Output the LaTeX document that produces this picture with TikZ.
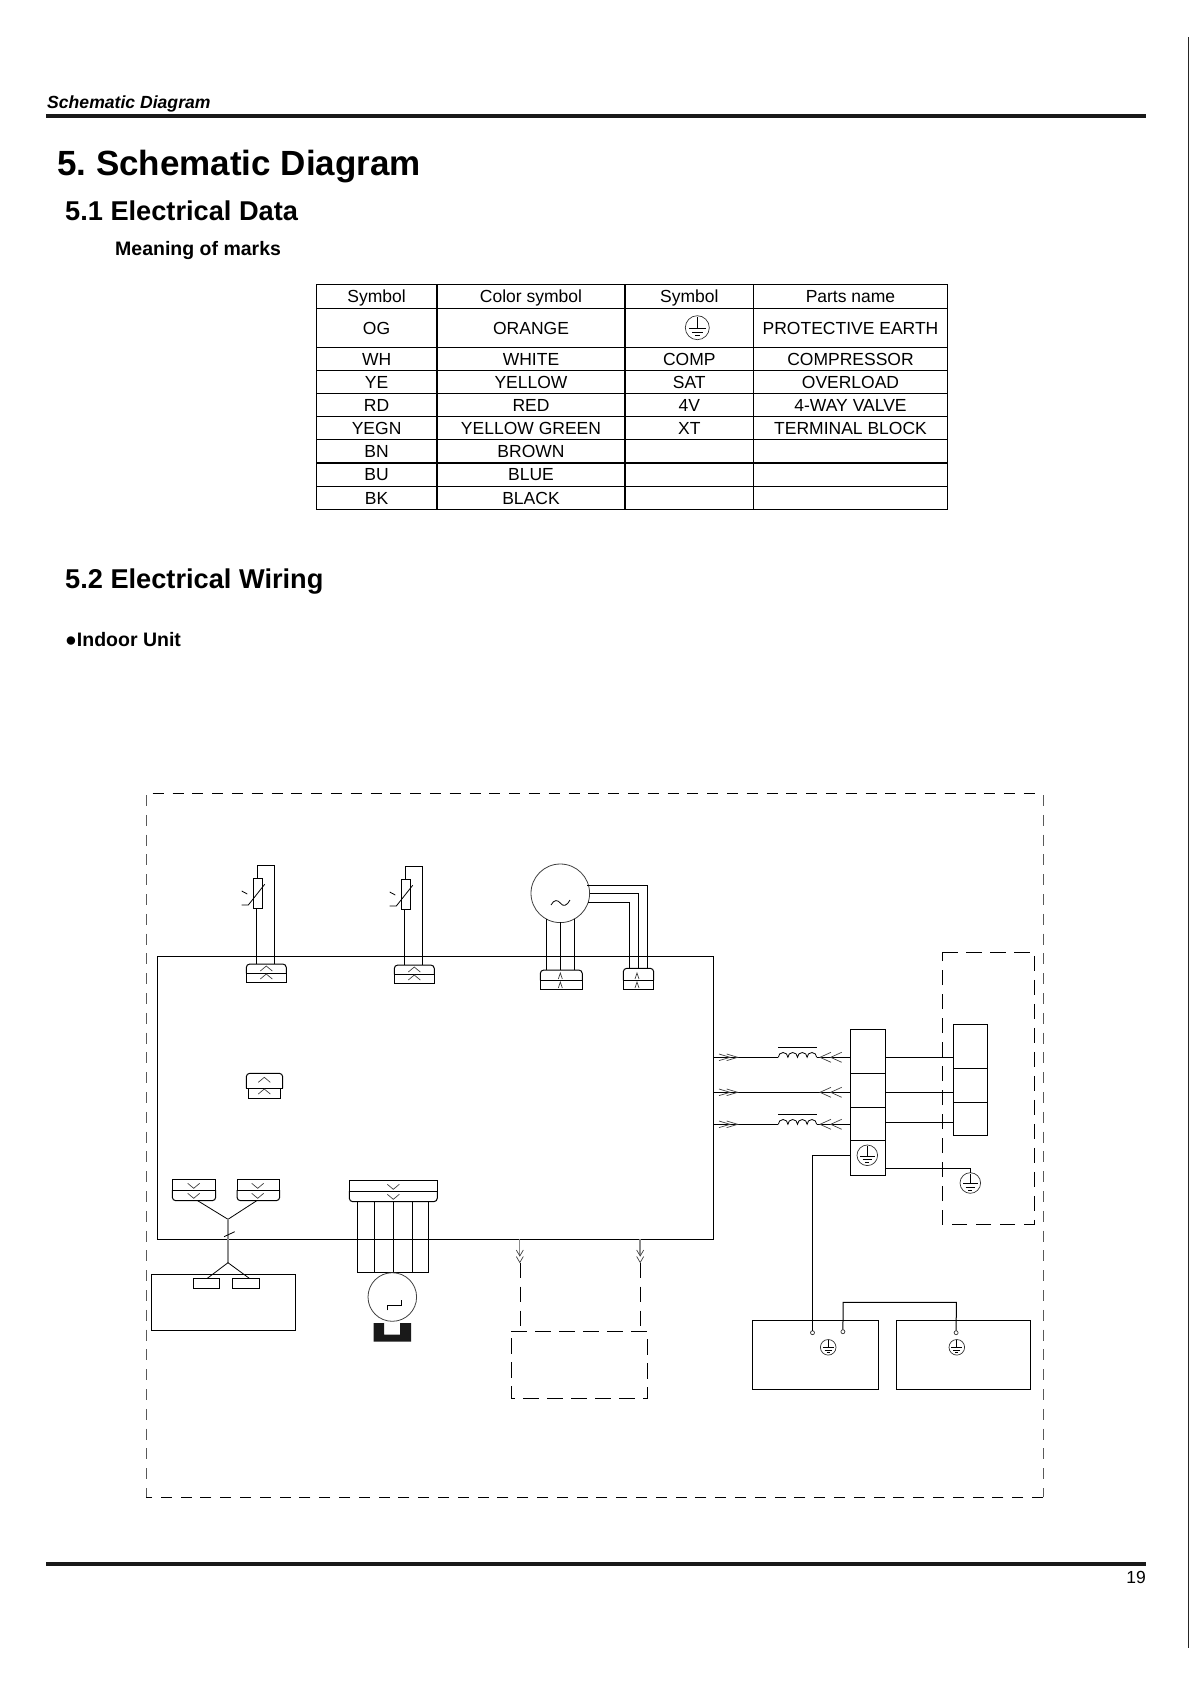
\documentclass[tikz,border=0pt]{standalone}
\usepackage{fontspec}
\setmainfont{Liberation Sans}
\frenchspacing
\tikzset{
  wire/.style={black, line width=1pt},
  thinwire/.style={black, line width=0.8pt},
  greywire/.style={black!45, line width=1.3pt},
  tipline/.style={black!75, line width=0.7pt},
  rulebar/.style={black!90, line width=4pt},
  block/.style={draw, black, line width=1pt, rectangle, inner sep=0pt, outer sep=0pt},
  earthring/.style={draw, black!80, line width=0.7pt, circle, inner sep=0pt, outer sep=0pt},
  pin/.style={draw, black!80, line width=0.7pt, circle, inner sep=0pt, outer sep=0pt, minimum size=4pt},
  dashline/.style={black, line width=0.9pt, dash pattern=on 11pt off 8.8pt},
  dashgrey/.style={black!65, line width=0.9pt, dash pattern=on 11pt off 8.8pt},
  dashlong/.style={black, line width=1pt, dash pattern=on 15.5pt off 8.5pt},
  tabthin/.style={black, line width=0.8pt},
  tabthick/.style={black, line width=1.5pt},
  cell/.style={anchor=base, inner sep=0pt, font=\fontsize{17.5}{20}\selectfont},
  heading/.style={anchor=base west, inner sep=0pt},
}
\newcommand{\blockbox}[5]{\node[block, minimum width={(#4-#2)*1pt}, minimum height={(#5-#3)*1pt}] (#1) at ({(#2+#4)/2},{(#3+#5)/2}) {};}
\newcommand{\earthmark}[4]{\node[earthring, minimum size={2*#4*1pt}] (#1) at (#2,#3) {};
  \begin{scope}[shift={(#2,#3)}, x=#4pt, y=-#4pt]
    \draw[thinwire] (0,-0.9) -- (0,0.07);
    \draw[thinwire] (-0.7,0.07) -- (0.7,0.07);
    \draw[thinwire] (-0.45,0.39) -- (0.45,0.39);
    \draw[thinwire] (-0.21,0.68) -- (0.21,0.68);
  \end{scope}}
\newcommand{\chevron}[5]{\draw[tipline, shift={(#1,#2)}, rotate=#3] (-#4,#5) -- (0,0) -- (#4,#5);}
\newcommand{\plughouse}[5]{\draw[wire, rounded corners=3.5pt] (#1,#4) -- (#1,#3) -- (#2,#3) -- (#2,#4);
  \draw[wire] (#1,#4) -- (#2,#4);
  \draw[wire] (#1,#4) -- (#1,#5) -- (#2,#5) -- (#2,#4);}
\newcommand{\coilmark}[3]{\draw[thinwire] (#1,#2) arc[start angle=180, end angle=0, radius=4.8pt] arc[start angle=180, end angle=0, radius=4.8pt] arc[start angle=180, end angle=0, radius=4.8pt] arc[start angle=180, end angle=0, radius=4.8pt];
  \draw[thinwire] (#1,#3) -- ++(38.4,0);}
\begin{document}
\begin{tikzpicture}[x=1pt, y=-1pt]
  \useasboundingbox (0,0) rectangle (1190,1684);

  % page frame
  \coordinate (headrulea) at (46,116);
  \coordinate (headruleb) at (1146,116);
  \coordinate (footrulea) at (46,1564);
  \coordinate (footruleb) at (1146,1564);
  \draw[rulebar] (headrulea) -- (headruleb);
  \draw[rulebar] (footrulea) -- (footruleb);
  \coordinate (edgea) at (1188.3,37);
  \coordinate (edgeb) at (1188.3,1647.7);
  \draw[black!85, line width=1.3pt] (edgea) -- (edgeb);
  \node[heading, font=\bfseries\itshape\fontsize{17.6}{20}\selectfont] (runhead) at (47,108) {Schematic Diagram};
  \node[heading, font=\bfseries\fontsize{35}{40}\selectfont] (title) at (57,175) {5. Schematic Diagram};
  \node[heading, font=\bfseries\fontsize{27.2}{30}\selectfont] (secdata) at (65,220) {5.1 Electrical Data};
  \node[heading, font=\bfseries\fontsize{19.5}{22}\selectfont] (marks) at (115,255) {Meaning of marks};
  \node[heading, font=\bfseries\fontsize{27.2}{30}\selectfont] (secwiring) at (65,588.5) {5.2 Electrical Wiring};
  \node[heading, font=\bfseries\fontsize{19.5}{22}\selectfont] (indoor) at (65,646) {●Indoor Unit};
  \node[anchor=base east, inner sep=0pt, font=\fontsize{17.5}{20}\selectfont] (pageno) at (1146,1583) {19};

  % table of marks
  \draw[tabthin] (316,284.3) rectangle (947.3,509.3);
  \draw[tabthick] (437.2,284.3) -- (437.2,509.3);
  \draw[tabthick] (625,284.3) -- (625,509.3);
  \draw[tabthin] (753.6,284.3) -- (753.6,509.3);
  \draw[tabthick] (316,308.4) -- (947.3,308.4);
  \draw[tabthick] (316,347.4) -- (947.3,347.4);
  \draw[tabthin] (316,370.6) -- (947.3,370.6);
  \draw[tabthin] (316,393.7) -- (947.3,393.7);
  \draw[tabthin] (316,416.3) -- (947.3,416.3);
  \draw[tabthin] (316,439.3) -- (947.3,439.3);
  \draw[tabthick] (316,463) -- (947.3,463);
  \draw[tabthick] (316,486.4) -- (947.3,486.4);

  \node[cell] (heada) at (376.6,302.6) {Symbol};
  \node[cell] (headb) at (531,302.6) {Color symbol};
  \node[cell] (headc) at (689.3,302.6) {Symbol};
  \node[cell] (headd) at (850.5,302.6) {Parts name};
  \node[cell] (oga) at (376.6,334) {OG};
  \node[cell] (ogb) at (531,334) {ORANGE};
  \earthmark{ogc}{697.3}{327.7}{12}
  \node[cell] (ogd) at (850.5,334) {PROTECTIVE EARTH};
  \node[cell] (wha) at (376.6,365.2) {WH};
  \node[cell] (whb) at (531,365.2) {WHITE};
  \node[cell] (whc) at (689.3,365.2) {COMP};
  \node[cell] (whd) at (850.5,365.2) {COMPRESSOR};
  \node[cell] (yea) at (376.6,388) {YE};
  \node[cell] (yeb) at (531,388) {YELLOW};
  \node[cell] (yec) at (689.3,388) {SAT};
  \node[cell] (yed) at (850.5,388) {OVERLOAD};
  \node[cell] (rda) at (376.6,411) {RD};
  \node[cell] (rdb) at (531,411) {RED};
  \node[cell] (rdc) at (689.3,411) {4V};
  \node[cell] (rdd) at (850.5,411) {4-WAY VALVE};
  \node[cell] (yga) at (376.6,434) {YEGN};
  \node[cell] (ygb) at (531,434) {YELLOW GREEN};
  \node[cell] (ygc) at (689.3,434) {XT};
  \node[cell] (ygd) at (850.5,434) {TERMINAL BLOCK};
  \node[cell] (bna) at (376.6,457) {BN};
  \node[cell] (bnb) at (531,457) {BROWN};
  \node[cell] (bua) at (376.6,480.7) {BU};
  \node[cell] (bub) at (531,480.7) {BLUE};
  \node[cell] (bka) at (376.6,504.2) {BK};
  \node[cell] (bkb) at (531,504.2) {BLACK};

  % outer dashed frame
  \draw[dashline] (152.7,793.3) -- (1043,793.3);
  \draw[dashgrey] (146.3,795) -- (146.3,1497.3);
  \draw[dashgrey] (1043,795) -- (1043,1497.3);
  \draw[dashline] (1043,1497.3) -- (146.3,1497.3);

  % main board
  \blockbox{pcb}{157.3}{956.3}{713.4}{1239.3}

  % thermistors
  \plughouse{246.3}{286.3}{964}{973.3}{982.3}
  \chevron{266.3}{966}{0}{6}{5}
  \chevron{266.3}{974}{0}{6}{5}
  \blockbox{rta}{253.3}{878.3}{262.3}{908.3}
  \coordinate (rtatop) at (257.3,878.3);
  \coordinate (rtabot) at (256.7,908.3);
  \coordinate (plugal) at (256.7,964);
  \coordinate (plugar) at (274.3,964);
  \draw[wire] (rtatop) -- (257.3,865.3) -- (274.3,865.3) -- (plugar);
  \draw[wire] (rtabot) -- (plugal);
  \draw[thinwire] (241.7,905) -- (248.3,905) -- (264.7,884.3);
  \draw[thinwire] (241.7,891) -- (247.3,894);

  \plughouse{394.3}{434.3}{965}{974.3}{983.3}
  \chevron{414.3}{967}{0}{6}{5}
  \chevron{414.3}{975}{0}{6}{5}
  \blockbox{rtb}{401.3}{879.3}{410.3}{909.3}
  \coordinate (rtbtop) at (405.3,879.3);
  \coordinate (rtbbot) at (404.7,909.3);
  \coordinate (plugbl) at (404.7,965);
  \coordinate (plugbr) at (422.3,965);
  \draw[wire] (rtbtop) -- (405.3,866.3) -- (422.3,866.3) -- (plugbr);
  \draw[wire] (rtbbot) -- (plugbl);
  \draw[thinwire] (389.7,906) -- (396.3,906) -- (412.7,885.3);
  \draw[thinwire] (389.7,892) -- (395.3,895);

  % loose socket on the board
  \draw[wire, rounded corners=3.5pt] (246.3,1088.3) -- (246.3,1073.3) -- (282.7,1073.3) -- (282.7,1088.3);
  \draw[wire] (246.3,1088.3) -- (282.7,1088.3);
  \draw[wire] (248.3,1088.3) -- (248.3,1098.3) -- (280.3,1098.3) -- (280.3,1088.3);
  \chevron{264.3}{1077.3}{0}{6}{5}
  \chevron{264.3}{1089}{0}{6}{5}

  % fan motor
  \node[draw, black!75, line width=0.8pt, circle, inner sep=0pt, minimum size=58.6pt] (fan) at (560.3,893.3) {};
  \draw[thinwire] (551,905) .. controls (554,899) and (558,900) .. (560.3,903) .. controls (563,907) and (567,906) .. (570,900);
  \plughouse{540.3}{582.3}{970}{980.3}{989.3}
  \chevron{560.3}{973}{0}{2}{6}
  \chevron{560.3}{982}{0}{2}{6}
  \plughouse{623.3}{653.7}{968.3}{980.3}{989.3}
  \chevron{637}{973}{0}{2}{6}
  \chevron{637}{982}{0}{2}{6}
  \coordinate (fanla) at (546.3,919);
  \coordinate (fanlb) at (560.3,922);
  \coordinate (fanlc) at (574.3,919);
  \coordinate (fanra) at (587.3,885.3);
  \coordinate (fanrb) at (589.6,893.3);
  \coordinate (fanrc) at (588,902);
  \draw[wire] (fanla) -- (546.3,970);
  \draw[wire] (fanlb) -- (560.3,970);
  \draw[wire] (fanlc) -- (574.3,970);
  \draw[wire] (fanra) -- (647.3,885.3) -- (647.3,968.3);
  \draw[wire] (fanrb) -- (638.3,893.3) -- (638.3,968.3);
  \draw[wire] (fanrc) -- (629.3,902) -- (629.3,968.3);

  % terminal block and mains lines
  \blockbox{tba}{850.3}{1029.3}{885.3}{1073.3}
  \blockbox{tbb}{850.3}{1073.3}{885.3}{1107.3}
  \blockbox{tbc}{850.3}{1107.3}{885.3}{1140.3}
  \blockbox{tbd}{850.3}{1140.3}{885.3}{1175.3}
  \earthmark{tbearth}{867.3}{1155.3}{10.3}
  \coilmark{778.3}{1057.3}{1047.3}
  \coilmark{778.3}{1124.3}{1114.3}
  \coordinate (linea) at (713.4,1057.3);
  \coordinate (lineb) at (713.4,1092.3);
  \coordinate (linec) at (713.4,1124.3);
  \draw[wire] (linea) -- (778.3,1057.3);
  \draw[wire] (816.7,1057.3) -- (tba.west |- linea);
  \draw[wire] (lineb) -- (tbb.west |- lineb);
  \draw[wire] (linec) -- (778.3,1124.3);
  \draw[wire] (816.7,1124.3) -- (tbc.west |- linec);
  \chevron{730}{1057.3}{-90}{3.3}{11}
  \chevron{737.7}{1057.3}{-90}{3.3}{11}
  \chevron{730}{1092.3}{-90}{3.3}{11}
  \chevron{737.7}{1092.3}{-90}{3.3}{11}
  \chevron{730}{1124.3}{-90}{3.3}{11}
  \chevron{737.7}{1124.3}{-90}{3.3}{11}
  \chevron{820}{1057.3}{90}{5}{11}
  \chevron{830.7}{1057.3}{90}{5}{11}
  \chevron{820}{1092.3}{90}{5}{11}
  \chevron{830.7}{1092.3}{90}{5}{11}
  \chevron{820}{1124.3}{90}{5}{11}
  \chevron{830.7}{1124.3}{90}{5}{11}

  % outdoor side terminals
  \draw[dashlong] (942.3,952.3) -- (1034.7,952.3) -- (1034.7,1224.3) -- (942.3,1224.3) -- cycle;
  \blockbox{oua}{953.3}{1024.3}{987.7}{1068.3}
  \blockbox{oub}{953.3}{1068.3}{987.7}{1102.3}
  \blockbox{ouc}{953.3}{1102.3}{987.7}{1135.3}
  \coordinate (outa) at (885.3,1057.3);
  \coordinate (outb) at (885.3,1092.3);
  \coordinate (outc) at (885.3,1122.3);
  \coordinate (oute) at (885.3,1168.3);
  \draw[wire] (outa) -- (oua.west |- outa);
  \draw[wire] (outb) -- (oub.west |- outb);
  \draw[wire] (outc) -- (ouc.west |- outc);
  \earthmark{ouearth}{970.3}{1183}{10.3}
  \draw[wire] (oute) -- (970.3,1168.3) -- (ouearth.north);

  % louver and display
  \plughouse{172.3}{215.7}{1200.7}{1190}{1179.3}
  \plughouse{237}{279.7}{1200.7}{1190}{1179.3}
  \chevron{193.7}{1188.3}{180}{6}{5}
  \chevron{193.7}{1198.3}{180}{6}{5}
  \chevron{257.7}{1188.3}{180}{6}{5}
  \chevron{257.7}{1198.3}{180}{6}{5}
  \coordinate (forka) at (228,1219.3);
  \coordinate (forkb) at (228,1262.7);
  \draw[thinwire] (197.7,1200.7) -- (forka) -- (256.7,1200.7);
  \draw[greywire] (forka) -- (forkb);
  \draw[thinwire] (224,1236.7) -- (234.7,1231.7);
  \blockbox{disp}{151.3}{1274.3}{295.7}{1330.3}
  \blockbox{dispa}{193.3}{1278.3}{219.7}{1288.3}
  \blockbox{dispb}{232.3}{1278.3}{259.3}{1288.3}
  \draw[thinwire] (207.3,1278.3) -- (forkb) -- (249.3,1278.3);

  % step motor
  \plughouse{349.3}{437.3}{1201.7}{1191}{1180.3}
  \chevron{393.3}{1189.3}{180}{6}{5}
  \chevron{393.3}{1199.3}{180}{6}{5}
  \draw[wire] (357.3,1201.7) -- (357.3,1272.3) -- (428.3,1272.3) -- (428.3,1201.7);
  \draw[wire] (374.3,1201.7) -- (374.3,1272.3);
  \draw[wire] (393.3,1201.7) -- (393.3,1272.3);
  \draw[wire] (412.3,1201.7) -- (412.3,1272.3);
  \node[draw, black!75, line width=0.8pt, circle, inner sep=0pt, minimum size=48.6pt] (stepper) at (392.3,1297) {};
  \draw[thinwire] (387.3,1310.3) -- (387.3,1305.3) -- (401.7,1305.3) -- (401.7,1300.3);
  \fill[black!90] (373.7,1323) -- (384,1323) -- (384,1334.7) -- (400,1334.7) -- (400,1323) -- (411,1323) -- (411,1341.7) -- (373.7,1341.7) -- cycle;

  % optional module below the board
  \draw[dashlong] (511.4,1331.3) -- (647.5,1331.3) -- (647.5,1398.3) -- (511.4,1398.3) -- cycle;
  \draw[greywire] (519.6,1239.3) -- (519.6,1255);
  \draw[greywire] (640,1239.3) -- (640,1255);
  \chevron{519.8}{1256}{180}{3.5}{6}
  \chevron{519.8}{1262.5}{180}{3.5}{6}
  \chevron{640.2}{1256}{180}{3.5}{6}
  \chevron{640.2}{1262.5}{180}{3.5}{6}
  \draw[dashlong] (520.4,1262.5) -- (520.4,1331);
  \draw[dashlong] (640.4,1262.5) -- (640.4,1331);

  % earth links to the lower boxes
  \blockbox{boxl}{752.5}{1320.3}{878.6}{1389.3}
  \blockbox{boxr}{896.4}{1320.3}{1030.7}{1389.3}
  \node[pin] (pina) at (812.5,1332.7) {};
  \node[pin] (pinb) at (842.9,1331.7) {};
  \node[pin] (pinc) at (956.1,1332.7) {};
  \earthmark{earthl}{828.2}{1347.3}{7.8}
  \earthmark{earthr}{956.8}{1347.3}{7.8}
  \coordinate (tbdwire) at (850.3,1155.3);
  \draw[wire] (tbdwire) -- (812.5,1155.3) -- (pina.north);
  \draw[wire] (pinb.north) -- (843.2,1302.3) -- (956.4,1302.3) -- (pinc.north);
\end{tikzpicture}
\end{document}
